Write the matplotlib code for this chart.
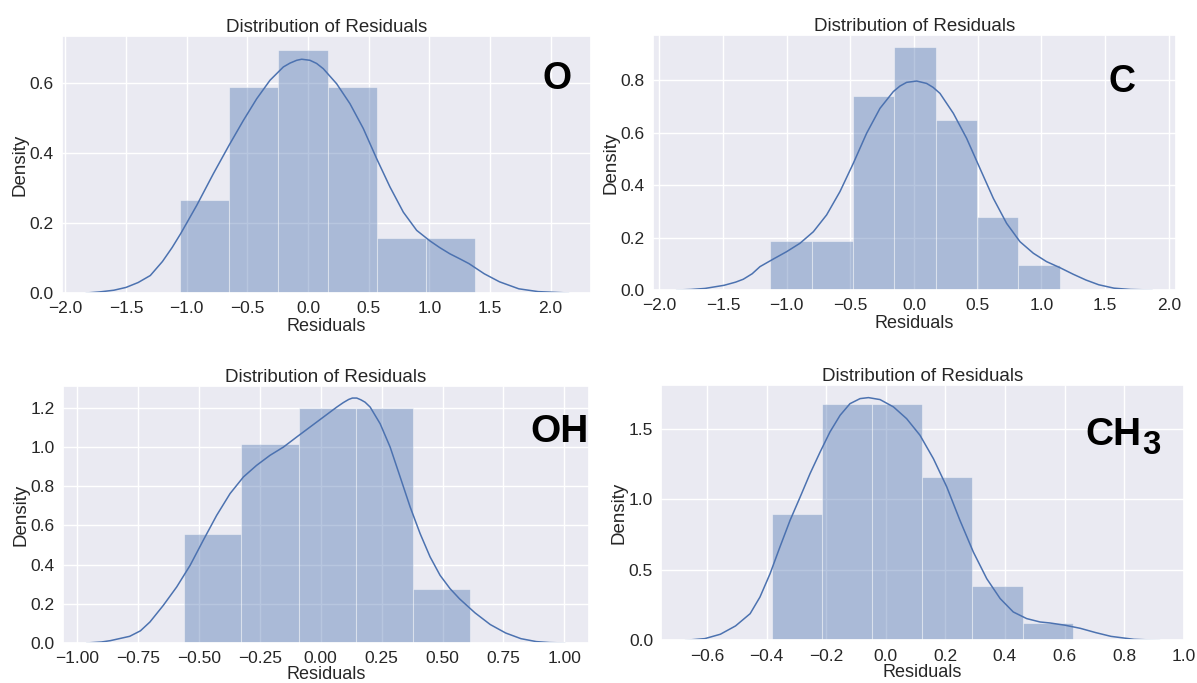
import numpy as np
import matplotlib
matplotlib.use("Agg")
import matplotlib.pyplot as plt
import seaborn as sns

sns.set_theme(style="darkgrid")
plt.rcParams['font.family'] = ['Liberation Sans', 'DejaVu Sans']

BLUE = '#4c72b0'

# O
o_edges = [-1.056, -0.650, -0.244, 0.162, 0.568, 0.974, 1.380]
o_heights = [0.265, 0.589, 0.695, 0.589, 0.158, 0.158]
o_kde_x = [-1.83, -1.72, -1.60, -1.50, -1.40, -1.30, -1.20, -1.12, -1.049, -0.918,
           -0.780, -0.651, -0.533, -0.423, -0.313, -0.203, -0.148, -0.093, -0.052, 0.016,
           0.071, 0.126, 0.236, 0.346, 0.456, 0.566, 0.676, 0.786, 0.896, 1.005,
           1.085, 1.170, 1.250, 1.327, 1.453, 1.579, 1.738, 1.897, 2.15]
o_kde_y = [0.0, 0.003, 0.008, 0.016, 0.030, 0.050, 0.090, 0.130, 0.170, 0.250,
           0.341, 0.422, 0.493, 0.555, 0.608, 0.646, 0.657, 0.665, 0.668, 0.665,
           0.656, 0.641, 0.598, 0.541, 0.470, 0.384, 0.303, 0.231, 0.179, 0.149,
           0.130, 0.112, 0.098, 0.084, 0.055, 0.032, 0.012, 0.004, 0.0]

# C
c_edges = [-1.127, -0.803, -0.478, -0.154, 0.171, 0.496, 0.820, 1.145]
c_heights = [0.188, 0.188, 0.740, 0.924, 0.648, 0.279, 0.095]
c_kde_x = [-1.865, -1.75, -1.64, -1.49, -1.40, -1.34, -1.27, -1.209, -1.104, -1.0,
           -0.895, -0.790, -0.686, -0.581, -0.476, -0.372, -0.267, -0.162, -0.110, -0.058,
           0.021, 0.099, 0.150, 0.204, 0.309, 0.413, 0.518, 0.623, 0.727, 0.832,
           0.937, 1.041, 1.146, 1.25, 1.35, 1.45, 1.57, 1.70, 1.87]
c_kde_y = [0.0, 0.002, 0.006, 0.018, 0.030, 0.041, 0.062, 0.089, 0.118, 0.146,
           0.178, 0.222, 0.286, 0.375, 0.483, 0.597, 0.692, 0.756, 0.777, 0.791,
           0.796, 0.787, 0.772, 0.749, 0.673, 0.578, 0.463, 0.349, 0.254, 0.184,
           0.140, 0.108, 0.085, 0.060, 0.038, 0.020, 0.007, 0.002, 0.0]

# OH
oh_edges = [-0.560, -0.3255, -0.091, 0.1435, 0.378, 0.6125]
oh_heights = [0.554, 1.013, 1.200, 1.200, 0.277]
oh_kde_x = [-0.961, -0.90, -0.863, -0.784, -0.740, -0.701, -0.646, -0.591, -0.536, -0.482,
            -0.427, -0.372, -0.317, -0.263, -0.208, -0.153, -0.099, -0.044, 0.011, 0.066,
            0.093, 0.115, 0.130, 0.148, 0.165, 0.182, 0.203, 0.244, 0.285, 0.326,
            0.367, 0.408, 0.449, 0.490, 0.531, 0.570, 0.633, 0.696, 0.759, 0.822,
            0.885, 0.94, 1.003]
oh_kde_y = [0.0, 0.005, 0.012, 0.034, 0.062, 0.107, 0.192, 0.286, 0.396, 0.524,
            0.651, 0.762, 0.847, 0.906, 0.957, 0.999, 1.050, 1.101, 1.152, 1.203,
            1.226, 1.242, 1.249, 1.249, 1.240, 1.228, 1.203, 1.118, 0.999, 0.847,
            0.694, 0.558, 0.439, 0.345, 0.277, 0.225, 0.154, 0.094, 0.051, 0.022,
            0.007, 0.002, 0.0]

# CH3
ch3_edges = [-0.380, -0.213, -0.045, 0.123, 0.291, 0.460, 0.628]
ch3_heights = [0.898, 1.674, 1.674, 1.158, 0.385, 0.125]
ch3_kde_x = [-0.673, -0.607, -0.555, -0.504, -0.455, -0.422, -0.388, -0.355, -0.321, -0.287,
             -0.254, -0.220, -0.187, -0.153, -0.120, -0.086, -0.058, -0.019, 0.026, 0.070,
             0.115, 0.160, 0.205, 0.249, 0.294, 0.339, 0.384, 0.428, 0.473, 0.518,
             0.551, 0.602, 0.653, 0.704, 0.756, 0.833, 0.920]
ch3_kde_y = [0.0, 0.012, 0.043, 0.102, 0.189, 0.307, 0.473, 0.662, 0.851, 1.017,
             1.182, 1.336, 1.478, 1.596, 1.678, 1.714, 1.721, 1.707, 1.655, 1.572,
             1.454, 1.288, 1.087, 0.851, 0.626, 0.437, 0.296, 0.201, 0.154, 0.130,
             0.123, 0.107, 0.085, 0.055, 0.028, 0.007, 0.0]

panels = [
    dict(pos=[0.0516, 0.571, 0.4418, 0.3766], edges=o_edges, heights=o_heights,
         kx=o_kde_x, ky=o_kde_y, xlim=(-2.03, 2.33), ylim=(0, 0.735),
         xticks=np.arange(-2.0, 2.01, 0.5), yticks=[0, 0.2, 0.4, 0.6], xfmt='%.1f',
         label='O', lpos=(0.936, 0.831), lsize=27, xpad=1.5),
    dict(pos=[0.5454, 0.5754, 0.4374, 0.3728], edges=c_edges, heights=c_heights,
         kx=c_kde_x, ky=c_kde_y, xlim=(-2.05, 2.06), ylim=(0, 0.970),
         xticks=np.arange(-2.0, 2.01, 0.5), yticks=[0, 0.2, 0.4, 0.6, 0.8], xfmt='%.1f',
         label='C', lpos=(0.897, 0.815), lsize=27, xpad=1.5),
    dict(pos=[0.0524, 0.0586, 0.4396, 0.3764], edges=oh_edges, heights=oh_heights,
         kx=oh_kde_x, ky=oh_kde_y, xlim=(-1.059, 1.101), ylim=(0, 1.311),
         xticks=np.arange(-1.0, 1.01, 0.25), yticks=[0, 0.2, 0.4, 0.6, 0.8, 1.0, 1.2],
         xfmt='%.2f', label='OH', lpos=(0.945, 0.822), lsize=28, xpad=0),
    dict(pos=[0.5525, 0.0625, 0.4364, 0.3731], edges=ch3_edges, heights=ch3_heights,
         kx=ch3_kde_x, ky=ch3_kde_y, xlim=(-0.753, 1.0), ylim=(0, 1.807),
         xticks=np.arange(-0.6, 1.01, 0.2), yticks=[0, 0.5, 1.0, 1.5], xfmt='%.1f',
         label=None, lpos=None, lsize=28, xpad=0),
]

fig = plt.figure(figsize=(11.97, 6.83), dpi=100)

for p in panels:
    ax = fig.add_axes(p['pos'])
    edges = np.array(p['edges'])
    ax.bar(edges[:-1], p['heights'], width=np.diff(edges), align='edge',
           color=BLUE, alpha=0.4, edgecolor='white', linewidth=0.8)
    ax.plot(p['kx'], p['ky'], color=BLUE, lw=1.1)
    ax.set_xlim(p['xlim'])
    ax.set_ylim(p['ylim'])
    ax.set_xticks(p['xticks'])
    ax.set_xticklabels([(p['xfmt'] % t).replace('-', '\u2212') for t in p['xticks']])
    ax.set_yticks(p['yticks'])
    ax.set_yticklabels(['%.1f' % t for t in p['yticks']])
    ax.tick_params(axis='x', labelsize=12.5, pad=0)
    ax.tick_params(axis='y', labelsize=12.5, pad=0)
    ax.set_title('Distribution of Residuals', fontsize=13.5, pad=3)
    ax.set_xlabel('Residuals', fontsize=13, labelpad=p['xpad'])
    ax.set_ylabel('Density', fontsize=13.5, labelpad=0.5)
    if p['label']:
        ax.text(p['lpos'][0], p['lpos'][1], p['label'], transform=ax.transAxes,
                ha='center', va='center', fontsize=p['lsize'], fontweight='bold',
                color='black')
    else:
        # CH3 with a big, lowered subscript
        ax.text(0.919, 0.806, 'CH', transform=ax.transAxes, ha='right', va='center',
                fontsize=p['lsize'], fontweight='bold', color='black')
        ax.text(0.921, 0.763, '3', transform=ax.transAxes, ha='left', va='center',
                fontsize=p['lsize'] * 0.85, fontweight='bold', color='black')

fig.savefig('out.png', dpi=100)
